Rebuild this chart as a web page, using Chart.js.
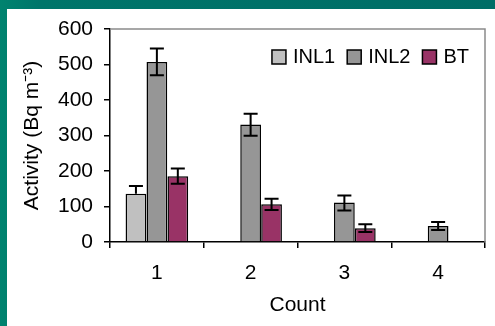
<!DOCTYPE html>
<html>
<head>
<meta charset="utf-8">
<script src="https://cdn.jsdelivr.net/npm/chart.js@4"></script>
<style>
  html, body { margin: 0; padding: 0; }
  body { width: 495px; height: 326px; background: linear-gradient(90deg, #00836f 0px, #00756a 40px, #006d66 495px); position: relative; overflow: hidden; }
  #panel { position: absolute; left: 7px; top: 9px; width: 488px; height: 317px; background: #fff; }
  #wrap { position: absolute; left: 0; top: 0; width: 495px; height: 326px; }
</style>
</head>
<body>
<div id="panel"></div>
<div id="wrap"><canvas id="myChart" width="495" height="326"></canvas></div>
<script>
// values
const counts = ['1', '2', '3', '4'];
const inl1 = [136, null, null, null];
const inl2 = [507, 331, 111, 45];
const bt = [185, 106, 39, null];
// error bars (up / down)
const inl1ErrUp = [22, null, null, null];
const inl1ErrDown = [0, null, null, null];
const inl2ErrUp = [38, 30, 20, 11];
const inl2ErrDown = [37, 32, 22, 11];
const btErrUp = [22, 16, 11, null];
const btErrDown = [21, 16, 11, null];
const yTicks = [0, 100, 200, 300, 400, 500, 600];

const font = 'Liberation Sans, Arial, sans-serif';

// draws the error bars from the data through the y scale
const errorBars = {
    id: 'errorBars',
    afterDatasetsDraw(chart) {
        const ctx = chart.ctx;
        const yScale = chart.scales.y;
        ctx.save();
        ctx.strokeStyle = '#000';
        ctx.lineWidth = 2;
        chart.data.datasets.forEach(function(ds, i) {
            const meta = chart.getDatasetMeta(i);
            meta.data.forEach(function(bar, j) {
                const v = ds.data[j];
                if (v == null) return;
                const up = ds.errUp[j] || 0;
                const down = ds.errDown[j] || 0;
                const yTop = yScale.getPixelForValue(v + up);
                const yBot = yScale.getPixelForValue(v - down);
                const yVal = yScale.getPixelForValue(v);
                const half = 7;
                ctx.beginPath();
                ctx.moveTo(bar.x, yTop);
                ctx.lineTo(bar.x, down ? yBot : yVal);
                ctx.moveTo(bar.x - half, yTop);
                ctx.lineTo(bar.x + half, yTop);
                if (down) {
                    ctx.moveTo(bar.x - half, yBot);
                    ctx.lineTo(bar.x + half, yBot);
                }
                ctx.stroke();
            });
        });
        ctx.restore();
    }
};

// grey frame on top and right of the plot area
const frame = {
    id: 'frame',
    beforeDatasetsDraw(chart) {
        const a = chart.chartArea;
        const ctx = chart.ctx;
        ctx.save();
        ctx.strokeStyle = '#8a8a8a';
        ctx.lineWidth = 1.5;
        ctx.beginPath();
        ctx.moveTo(a.left, a.top);
        ctx.lineTo(a.right, a.top);
        ctx.lineTo(a.right, a.bottom);
        ctx.stroke();
        ctx.restore();
    }
};

// legend inside the plot, top right, in one row
const innerLegend = {
    id: 'innerLegend',
    afterDraw(chart) {
        const a = chart.chartArea;
        const ctx = chart.ctx;
        const box = 14, gap = 7, sep = 12;
        ctx.save();
        ctx.font = '20px ' + font;
        ctx.textBaseline = 'middle';
        const items = chart.data.datasets.map(function(ds) {
            return { text: ds.label, color: ds.backgroundColor, w: ctx.measureText(ds.label).width };
        });
        let total = 0;
        items.forEach(function(it, i) { total += box + gap + it.w + (i ? sep : 0); });
        let x = a.right - 16 - total;
        const yMid = a.top + 28;
        items.forEach(function(it) {
            ctx.fillStyle = it.color;
            ctx.fillRect(x, yMid - box / 2, box, box);
            ctx.strokeStyle = '#000';
            ctx.lineWidth = 1.5;
            ctx.strokeRect(x, yMid - box / 2, box, box);
            ctx.fillStyle = '#000';
            ctx.fillText(it.text, x + box + gap, yMid);
            x += box + gap + it.w + sep;
        });
        ctx.restore();
    }
};

const data = {
    labels: counts,
    datasets: [
        { label: 'INL1', data: inl1, errUp: inl1ErrUp, errDown: inl1ErrDown, backgroundColor: '#c0c0c0' },
        { label: 'INL2', data: inl2, errUp: inl2ErrUp, errDown: inl2ErrDown, backgroundColor: '#969696' },
        { label: 'BT', data: bt, errUp: btErrUp, errDown: btErrDown, backgroundColor: '#993366' }
    ]
};
data.datasets.forEach(function(ds) {
    ds.borderColor = '#000';
    ds.borderWidth = 1.5;
    ds.categoryPercentage = 0.67;
    ds.barPercentage = 0.99;
});

const config = {
    type: 'bar',
    data: data,
    options: {
        responsive: false,
        animation: false,
        layout: { padding: { top: 29, right: 10, left: 0, bottom: 0 } },
        plugins: {
            tooltip: { enabled: false },
            legend: { display: false }
        },
        scales: {
            x: {
                offset: true,
                grid: { offset: true, drawOnChartArea: false, drawTicks: true, tickLength: 6, color: '#000', lineWidth: 1.5 },
                border: { color: '#000', width: 1.5 },
                ticks: { color: '#000', font: { family: font, size: 21 }, padding: 13 },
                title: { display: true, text: 'Count', color: '#000', font: { family: font, size: 21 }, padding: { top: 0, bottom: 8 } },
                afterFit(s) { s.height = 84; }
            },
            y: {
                min: 0,
                max: 600,
                afterBuildTicks(s) { s.ticks = yTicks.map(function(v) { return { value: v }; }); },
                grid: { drawOnChartArea: false, drawTicks: true, tickLength: 6, color: '#000', lineWidth: 1.5 },
                border: { color: '#000', width: 1.5 },
                ticks: { color: '#000', font: { family: font, size: 21 }, padding: 11 },
                title: { display: true, text: 'Activity (Bq m\u207B\u00B3)', color: '#000', font: { family: font, size: 21 }, padding: { top: 20, bottom: 0 } },
                afterFit(s) { s.width = 110; }
            }
        }
    },
    plugins: [frame, errorBars, innerLegend]
};

const chart = new Chart(document.getElementById('myChart'), config);
</script>
</body>
</html>
